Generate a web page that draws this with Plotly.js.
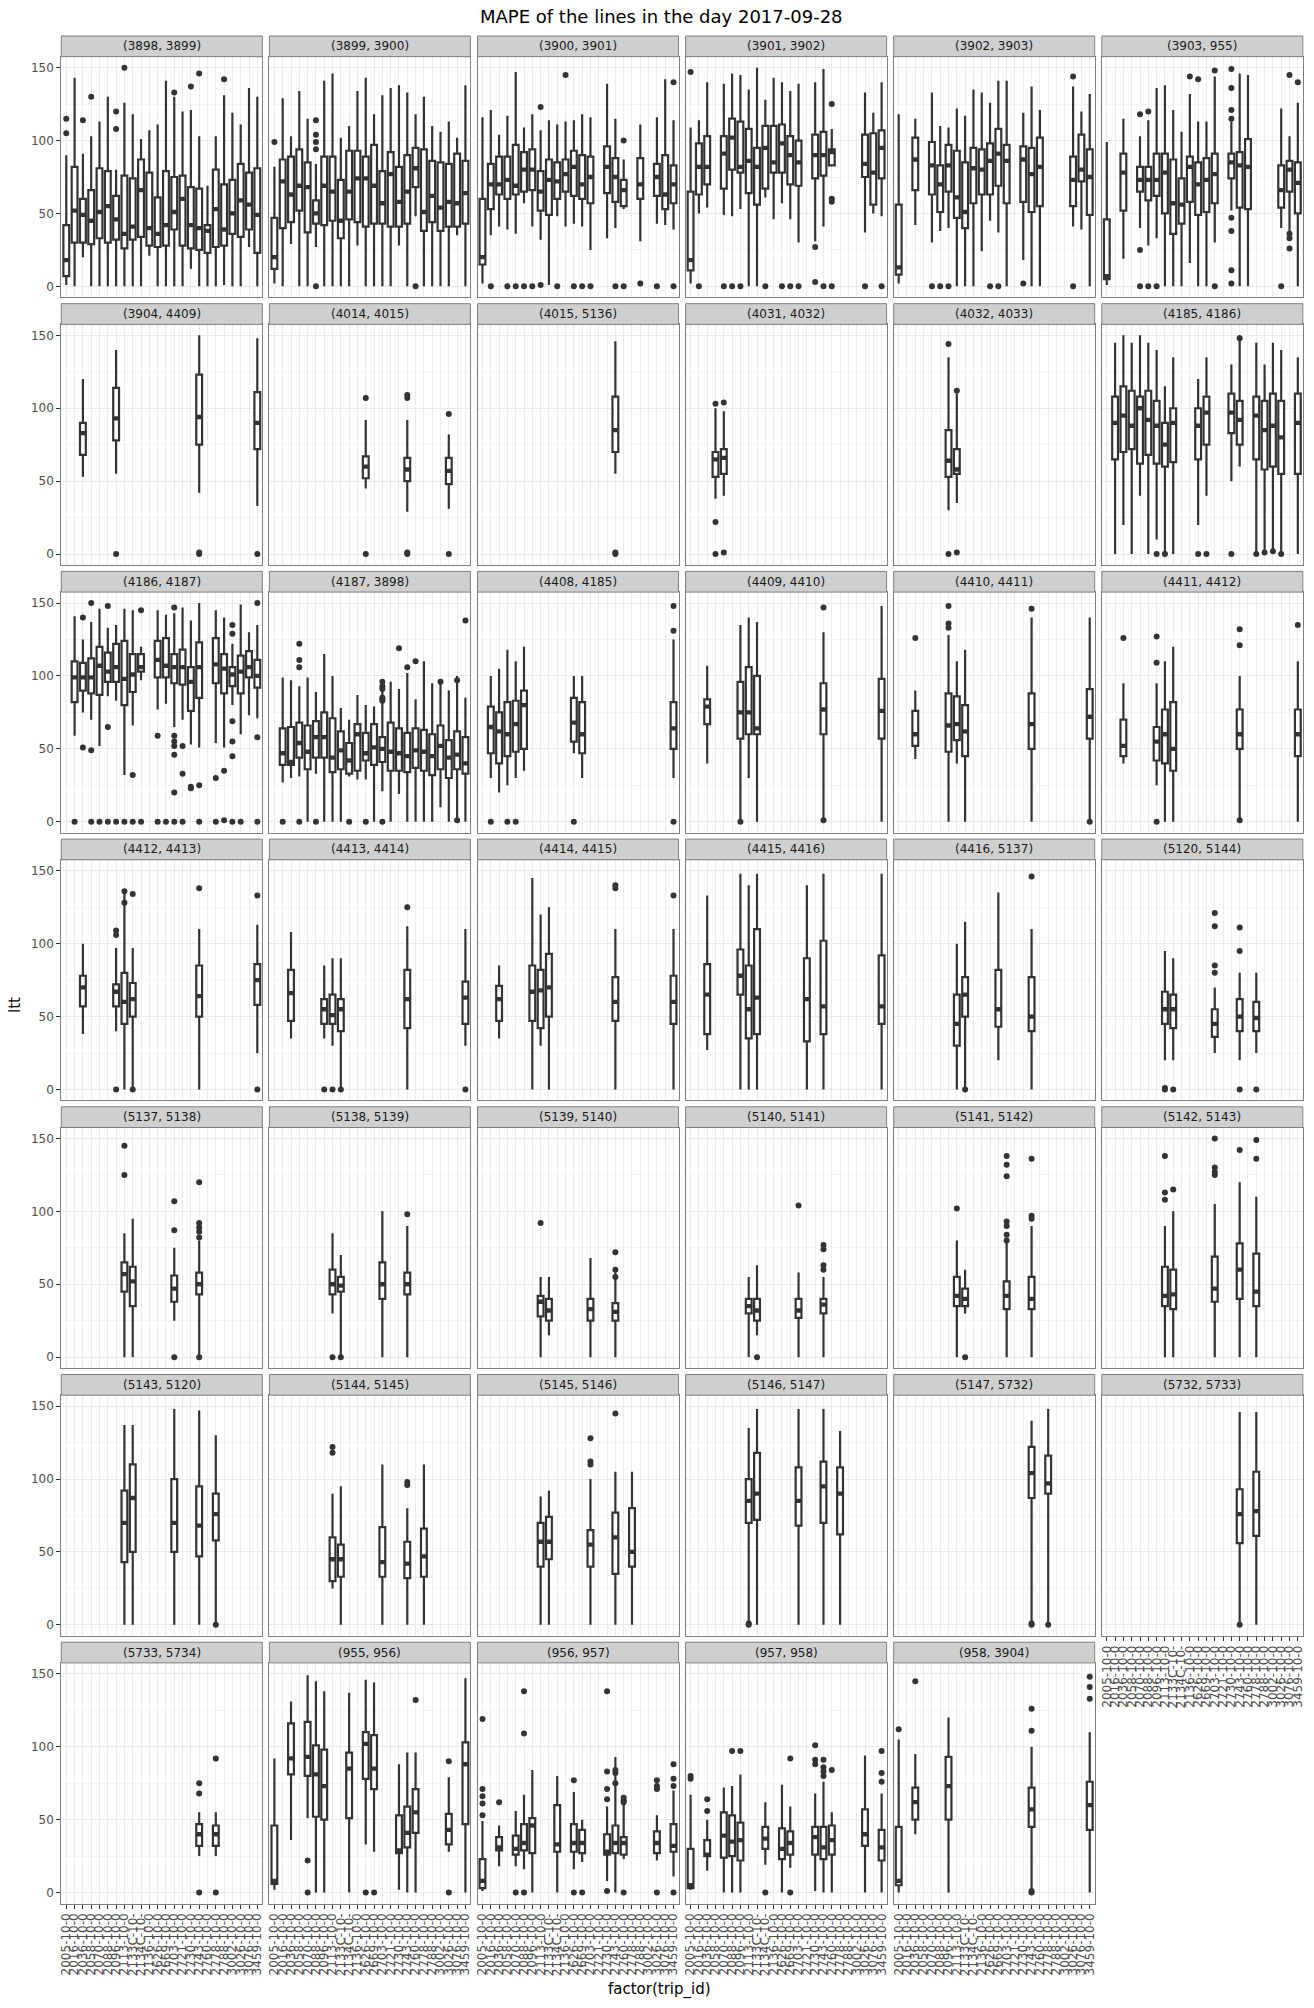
<!DOCTYPE html>
<html><head><meta charset="utf-8">
<script src="https://cdn.plot.ly/plotly-3.0.1.min.js"></script>
<style>html,body{margin:0;padding:0;background:#fff}#chart{width:1314px;height:2008px}</style>
</head><body><div id="chart"></div>
<script>
// ---------- DATA ----------
const tripIds = ["2005-10-0","2016-10-0","2036-10-0","2058-10-0","2070-10-0","2088-10-0","2096-10-0","2113-10-0",
  "2133C-10-","2134C-10-","2136-10-0","2626-10-0","2669-10-0","2703-10-0","2721-10-0","2730-10-0",
  "2743-10-0","2760-10-0","2778-10-0","2788-10-0","3002-10-0","3026-10-0","3076-10-0","3459-10-0"];

const facetNames = ["(3898, 3899)","(3899, 3900)","(3900, 3901)","(3901, 3902)","(3902, 3903)","(3903, 955)",
  "(3904, 4409)","(4014, 4015)","(4015, 5136)","(4031, 4032)","(4032, 4033)","(4185, 4186)",
  "(4186, 4187)","(4187, 3898)","(4408, 4185)","(4409, 4410)","(4410, 4411)","(4411, 4412)",
  "(4412, 4413)","(4413, 4414)","(4414, 4415)","(4415, 4416)","(4416, 5137)","(5120, 5144)",
  "(5137, 5138)","(5138, 5139)","(5139, 5140)","(5140, 5141)","(5141, 5142)","(5142, 5143)",
  "(5143, 5120)","(5144, 5145)","(5145, 5146)","(5146, 5147)","(5147, 5732)","(5732, 5733)",
  "(5733, 5734)","(955, 956)","(956, 957)","(957, 958)","(958, 3904)"];

// box rows: [trip index (1-based), lower whisker, q1, median, q3, upper whisker]; outliers: [trip index, value]
const box_3898_3899 = [[1,1,7,18,42,90],[2,0,30,52,82,143],[3,20,30,49,60,91],[4,0,29,45,66,103],[5,0,33,51,81,113],[6,0,30,55,79,130],[7,0,32,46,62,80],[8,0,26,36,76,126],[9,0,32,41,74,118],[10,0,34,66,87,101],[11,21,28,40,78,107],[12,0,27,36,61,111],[13,0,28,42,79,141],[14,0,39,51,75,130],[15,0,28,60,76,120],[16,12,26,42,68,121],[17,0,25,40,67,103],[18,0,23,38,42,69],[19,0,27,53,80,103],[20,1,28,39,70,131],[21,0,36,50,73,119],[22,0,34,59,84,111],[23,27,39,56,78,136],[24,0,23,49,81,130]];
const out_3898_3899 = [[1,115],[1,105],[3,114],[4,130],[7,120],[7,108],[8,150],[14,133],[16,137],[17,146],[20,142]];

const box_3899_3900 = [[1,2,12,20,47,82],[2,0,40,72,87,129],[3,29,44,63,89,103],[4,0,52,69,94,134],[5,0,37,68,85,115],[6,27,43,50,59,84],[7,0,42,69,89,141],[8,0,45,65,89,146],[9,0,33,45,73,102],[10,0,46,65,93,110],[11,28,44,74,93,134],[12,0,41,74,89,143],[13,0,43,69,97,118],[14,0,43,57,79,131],[15,0,41,77,92,136],[16,28,41,58,82,138],[17,0,43,65,90,133],[18,48,68,81,95,118],[19,0,38,51,94,130],[20,0,44,62,86,110],[21,0,38,54,85,106],[22,0,41,58,84,113],[23,35,41,57,91,102],[24,0,43,64,86,138]];
const out_3899_3900 = [[1,99],[6,114],[6,104],[6,99],[6,94],[6,0],[18,0]];

const box_3900_3901 = [[1,2,15,20,60,116],[2,35,53,70,84,121],[3,41,63,70,89,104],[4,39,60,73,89,117],[5,36,63,69,97,147],[6,57,65,80,92,109],[7,41,66,80,94,118],[8,32,52,65,79,107],[9,1,49,73,87,114],[10,48,60,72,85,111],[11,41,65,77,87,113],[12,43,62,82,93,114],[13,41,60,70,90,118],[14,25,57,75,89,116],[16,33,64,82,96,139],[17,40,58,75,88,115],[18,53,55,66,73,87],[20,31,60,70,88,111],[22,43,62,75,84,116],[23,42,53,63,90,142],[24,39,57,70,83,114]];
const out_3900_3901 = [[2,0],[4,0],[5,0],[6,0],[7,0],[8,123],[8,1],[10,0],[11,145],[12,0],[13,0],[14,0],[17,0],[18,100],[18,0],[20,2],[22,0],[24,140],[24,0]];

const box_3901_3902 = [[1,2,11,18,65,109],[2,50,63,82,98,114],[3,54,70,82,103,140],[5,49,67,91,103,139],[6,48,80,102,115,146],[7,53,78,82,113,145],[8,0,64,86,108,135],[9,0,56,82,95,150],[10,61,67,95,110,128],[11,46,78,85,110,143],[12,57,78,98,111,140],[13,46,70,90,103,134],[14,30,69,85,100,139],[16,31,74,90,104,140],[17,41,76,90,106,149],[18,83,83,92,94,108],[22,37,75,84,104,133],[23,50,56,78,105,119],[24,48,74,95,107,140]];
const out_3901_3902 = [[1,147],[2,0],[5,0],[6,0],[7,0],[10,0],[12,0],[13,0],[14,0],[16,27],[16,3],[17,0],[18,125],[18,60],[18,58],[18,0],[22,0],[24,0]];

const box_3902_3903 = [[1,2,8,13,56,118],[3,42,66,87,102,115],[5,30,63,83,99,133],[6,38,51,70,83,110],[7,40,65,83,97,109],[8,0,47,61,93,122],[9,0,40,51,85,117],[10,0,57,81,95,135],[11,24,63,80,94,133],[12,45,63,86,98,126],[13,37,69,91,108,141],[14,0,57,86,97,141],[16,18,58,87,96,119],[17,0,51,77,95,137],[18,0,55,82,102,121],[22,41,55,73,89,137],[23,39,72,80,104,120],[24,0,49,75,94,132]];
const out_3902_3903 = [[5,0],[6,0],[7,0],[12,0],[13,0],[16,2],[22,144],[22,0]];

const box_3903_955 = [[1,1,5,7,46,99],[3,19,52,78,91,115],[5,40,65,73,82,103],[6,28,59,73,82,114],[7,33,62,73,91,136],[8,0,50,78,91,138],[9,0,36,57,87,121],[10,0,43,56,74,106],[11,16,58,82,89,132],[12,0,49,70,85,113],[13,0,51,73,88,113],[14,30,57,77,91,144],[16,52,74,85,91,113],[17,0,54,83,92,146],[18,0,53,82,101,145],[22,40,54,66,83,122],[23,35,65,80,86,103],[24,0,50,71,85,126]];
const out_3903_955 = [[5,118],[5,25],[5,0],[6,120],[6,0],[7,0],[11,144],[12,142],[14,148],[14,0],[16,149],[16,136],[16,121],[16,115],[16,47],[16,38],[16,11],[16,2],[22,0],[23,145],[23,36],[23,33],[23,26],[24,140]];

const box_3904_4409 = [[3,53,68,83,90,120],[7,55,78,93,114,140],[17,42,75,94,123,150],[24,33,72,90,111,148]];
const out_3904_4409 = [[7,0],[17,0],[17,1],[24,0]];

const box_4014_4015 = [[12,45,52,60,67,92],[17,29,50,58,66,92],[22,31,48,57,66,82]];
const out_4014_4015 = [[12,107],[12,0],[17,109],[17,107],[17,0],[17,1],[22,96],[22,0]];

const box_4015_5136 = [[17,55,70,85,108,146]];
const out_4015_5136 = [[17,0],[17,1]];

const box_4031_4032 = [[4,38,53,65,70,100],[5,40,55,66,72,98]];
const out_4031_4032 = [[4,103],[4,22],[4,0],[5,104],[5,1]];

const box_4032_4033 = [[7,30,53,64,85,135],[8,35,55,58,72,110]];
const out_4032_4033 = [[7,144],[7,0],[8,112],[8,1]];

const box_4185_4186 = [[2,0,65,90,108,145],[3,20,70,95,115,150],[4,0,72,88,112,145],[5,40,62,100,108,150],[6,0,68,92,112,145],[7,10,62,88,105,140],[8,0,60,75,90,115],[9,0,63,90,100,135],[12,20,65,88,100,120],[13,40,75,97,108,135],[16,50,83,97,110,130],[17,60,75,92,105,150],[19,0,65,95,108,145],[20,0,58,85,105,130],[21,0,60,88,110,145],[22,0,55,80,105,140],[24,0,55,90,110,135]];
const out_4185_4186 = [[7,0],[8,0],[12,0],[13,0],[16,0],[17,148],[19,0],[20,1],[21,2],[22,0]];

const box_4186_4187 = [[2,59,82,99,110,141],[3,75,90,99,109,125],[4,70,88,99,112,137],[5,52,87,107,120,146],[6,86,96,103,116,133],[7,83,96,106,122,135],[8,32,80,98,124,146],[9,66,89,101,115,145],[10,97,103,106,115,120],[12,77,99,111,124,145],[13,81,99,107,126,142],[14,65,95,106,115,143],[15,70,94,106,118,147],[16,53,76,96,106,138],[17,51,85,106,123,150],[19,54,95,108,126,145],[20,51,88,105,115,140],[21,80,93,101,106,122],[22,60,88,103,114,149],[23,73,99,106,117,130],[24,71,92,100,111,135]];
const out_4186_4187 = [[2,0],[3,140],[3,51],[4,150],[4,49],[4,0],[5,0],[6,148],[6,65],[6,0],[7,0],[8,0],[9,32],[9,0],[10,145],[10,0],[12,59],[12,0],[13,0],[14,147],[14,59],[14,55],[14,52],[14,46],[14,20],[14,0],[15,52],[15,33],[15,0],[16,24],[16,23],[17,25],[17,0],[19,30],[19,0],[20,35],[20,1],[21,135],[21,129],[21,69],[21,55],[21,45],[21,0],[22,0],[24,150],[24,58],[24,0]];

const box_4187_3898 = [[2,27,39,47,64,99],[3,30,39,41,65,97],[4,31,44,54,68,93],[5,0,36,48,66,99],[6,33,44,58,69,89],[7,0,44,58,75,115],[8,0,34,44,71,100],[9,0,36,49,62,78],[10,31,33,42,54,70],[11,29,35,60,67,87],[12,29,42,47,61,80],[13,0,39,51,67,79],[14,21,41,50,58,92],[15,0,35,48,68,96],[16,19,35,47,64,91],[17,0,34,45,61,102],[18,0,37,49,64,84],[19,0,35,48,63,110],[20,0,32,45,60,95],[21,10,36,52,66,95],[22,0,30,44,56,90],[23,0,36,46,62,100],[24,0,33,40,58,85]];
const out_4187_3898 = [[2,0],[4,122],[4,111],[4,106],[4,0],[6,0],[10,0],[12,0],[14,96],[14,93],[14,91],[14,85],[14,84],[14,83],[14,0],[16,119],[17,106],[18,110],[21,96],[23,97],[23,1],[24,138]];

const box_4408_4185 = [[2,30,47,65,79,100],[3,20,40,62,75,105],[4,25,45,60,82,118],[5,30,48,67,83,110],[6,35,50,80,90,120],[12,47,55,68,85,100],[13,30,47,60,82,100],[24,30,50,64,82,125]];
const out_4408_4185 = [[2,0],[4,0],[5,0],[12,0],[24,148],[24,131],[24,0]];

const box_4409_4410 = [[3,40,67,79,84,107],[7,0,57,75,96,135],[8,30,60,75,106,140],[9,0,60,64,100,137],[17,0,60,77,95,130],[24,0,57,76,98,148]];
const out_4409_4410 = [[7,0],[17,147],[17,1]];

const box_4410_4411 = [[3,43,52,60,76,90],[7,0,48,66,88,128],[8,40,56,67,86,110],[9,0,45,62,80,118],[17,0,50,67,88,140],[24,0,57,72,91,140]];
const out_4410_4411 = [[3,126],[7,148],[7,136],[7,133],[17,146],[24,0]];

const box_4411_4412 = [[3,40,45,52,70,95],[7,25,42,55,65,95],[8,0,40,60,77,110],[9,0,35,50,82,120],[17,0,50,60,77,100],[24,0,45,60,77,110]];
const out_4411_4412 = [[3,126],[7,127],[7,109],[7,0],[17,132],[17,121],[17,1],[24,135]];

const box_4412_4413 = [[3,38,57,70,78,100],[7,40,57,67,72,97],[8,0,45,60,80,135],[9,0,50,62,73,97],[17,0,50,64,85,110],[24,25,58,75,86,113]];
const out_4412_4413 = [[7,109],[7,106],[7,0],[8,136],[8,128],[9,134],[9,0],[17,138],[24,133],[24,0]];

const box_4413_4414 = [[3,35,47,66,82,108],[7,35,45,55,62,85],[8,30,45,51,65,90],[9,0,40,55,62,90],[17,0,42,62,82,112],[24,30,45,63,74,110]];
const out_4413_4414 = [[7,0],[8,0],[9,0],[17,125],[24,0]];

const box_4414_4415 = [[3,35,47,62,71,85],[7,0,47,67,85,145],[8,30,42,68,82,120],[9,0,50,70,93,125],[17,0,47,60,77,110],[24,0,45,60,78,110]];
const out_4414_4415 = [[17,140],[17,138],[24,133]];

const box_4415_4416 = [[3,27,38,65,86,133],[7,0,65,78,96,148],[8,0,35,55,85,140],[9,0,38,63,110,148],[15,0,33,62,90,140],[17,0,38,57,102,148],[24,0,45,57,92,148]];
const out_4415_4416 = [];

const box_4416_5137 = [[8,0,30,45,65,100],[9,0,50,65,77,115],[13,20,43,55,82,135],[17,0,40,50,77,110]];
const out_4416_5137 = [[9,0],[17,146]];

const box_5120_5144 = [[8,20,45,55,67,95],[9,20,42,55,65,90],[14,25,36,45,55,70],[17,20,40,50,62,80],[19,25,40,49,60,80]];
const out_5120_5144 = [[8,0],[8,1],[9,0],[14,121],[14,112],[14,85],[14,80],[17,111],[17,95],[17,0],[19,0]];

const box_5137_5138 = [[8,0,45,57,65,85],[9,0,35,52,62,95],[14,25,38,47,56,75],[17,0,43,50,58,80]];
const out_5137_5138 = [[8,145],[8,125],[14,107],[14,87],[14,0],[17,120],[17,92],[17,89],[17,86],[17,82],[17,0]];

const box_5138_5139 = [[8,30,43,50,60,85],[9,0,45,49,55,70],[14,0,40,50,65,100],[17,0,43,50,58,90]];
const out_5138_5139 = [[8,0],[9,0],[17,98]];

const box_5139_5140 = [[8,0,28,38,42,55],[9,15,25,32,40,55],[14,0,25,33,40,68],[17,0,25,31,37,60]];
const out_5139_5140 = [[8,92],[17,72],[17,60],[17,55]];

const box_5140_5141 = [[8,0,30,35,40,55],[9,15,25,32,40,63],[14,0,27,32,40,58],[17,0,30,36,40,55]];
const out_5140_5141 = [[9,0],[14,104],[17,77],[17,74],[17,63],[17,60]];

const box_5141_5142 = [[8,0,35,42,55,80],[9,30,35,40,47,60],[14,0,33,42,52,80],[17,0,33,40,55,90]];
const out_5141_5142 = [[8,102],[9,0],[14,138],[14,132],[14,124],[14,93],[14,90],[14,84],[14,80],[17,136],[17,97],[17,95]];

const box_5142_5143 = [[8,0,35,42,62,90],[9,0,33,43,60,100],[14,0,38,47,69,105],[17,0,40,60,78,120],[19,0,35,45,71,110]];
const out_5142_5143 = [[8,138],[8,113],[8,108],[9,115],[14,150],[14,130],[14,127],[14,125],[17,142],[19,149],[19,136]];

const box_5143_5120 = [[8,0,43,70,92,137],[9,0,50,87,110,137],[14,0,50,70,100,148],[17,0,47,68,95,147],[19,0,58,76,90,130]];
const out_5143_5120 = [[19,0]];

const box_5144_5145 = [[8,25,30,45,60,90],[9,0,33,45,55,95],[14,0,33,43,67,110],[17,0,32,42,57,80],[19,0,33,47,66,110]];
const out_5144_5145 = [[8,122],[8,118],[17,98],[17,96]];

const box_5145_5146 = [[8,0,40,57,70,88],[9,0,45,57,74,92],[14,0,40,55,65,100],[17,0,35,60,77,105],[19,0,40,50,80,105]];
const out_5145_5146 = [[14,128],[14,112],[14,110],[17,145]];

const box_5146_5147 = [[8,0,70,85,100,135],[9,0,72,90,118,148],[14,0,68,85,108,148],[17,0,70,95,112,148],[19,0,62,90,108,133]];
const out_5146_5147 = [[8,0],[8,1]];

const box_5147_5732 = [[17,0,87,104,122,140],[19,0,90,97,116,148]];
const out_5147_5732 = [[17,0],[17,1],[19,0]];

const box_5732_5733 = [[17,0,56,76,93,146],[19,0,61,78,105,146]];
const out_5732_5733 = [[17,0]];

const box_5733_5734 = [[17,25,32,40,47,55],[19,25,32,40,46,55]];
const out_5733_5734 = [[17,75],[17,68],[17,0],[19,92],[19,0]];

const box_955_956 = [[1,2,6,8,46,92],[3,36,81,92,116,131],[5,51,80,93,117,149],[6,0,52,81,101,145],[7,0,50,73,98,138],[10,0,51,85,96,137],[12,33,78,102,110,146],[13,28,71,85,108,144],[16,2,27,29,53,88],[17,0,31,41,59,96],[18,0,41,55,71,96],[22,28,33,43,54,79],[24,0,47,88,103,147]];
const out_955_956 = [[5,22],[5,0],[12,0],[13,0],[18,132],[22,90],[22,0]];

const box_956_957 = [[1,1,3,8,23,49],[3,18,29,31,38,46],[5,18,26,30,39,56],[6,16,29,34,47,67],[7,0,27,46,51,84],[10,0,28,33,60,80],[12,16,28,34,47,69],[13,21,27,34,43,50],[16,8,26,28,40,59],[17,0,27,34,46,93],[18,23,26,34,38,66],[22,22,27,34,42,53],[24,11,28,32,47,70]];
const out_956_957 = [[1,119],[1,71],[1,66],[1,61],[1,53],[3,62],[5,0],[6,138],[6,109],[6,0],[12,77],[12,0],[13,0],[16,138],[16,83],[16,71],[16,64],[16,1],[17,84],[17,82],[17,75],[18,65],[18,63],[18,62],[18,0],[22,77],[22,73],[22,71],[22,0],[24,88],[24,78],[24,73],[24,0]];

const box_957_958 = [[1,2,3,5,30,67],[3,15,25,26,36,50],[5,0,24,39,55,72],[6,0,25,35,53,73],[7,0,22,36,48,81],[10,19,30,37,45,62],[12,0,23,30,44,74],[13,17,26,34,42,59],[16,1,26,38,45,68],[17,0,23,31,45,76],[18,0,26,36,46,55],[22,0,32,40,57,94],[24,0,22,31,43,68]];
const out_957_958 = [[1,80],[1,78],[3,64],[3,56],[6,97],[7,97],[10,0],[13,92],[13,0],[16,101],[16,91],[16,88],[17,91],[17,86],[17,83],[17,80],[18,84],[24,97],[24,82],[24,76]];

const box_958_3904 = [[1,0,5,8,45,105],[3,40,50,62,72,95],[7,0,50,73,93,120],[17,0,45,57,72,100],[24,0,43,60,76,110]];
const out_958_3904 = [[1,112],[3,145],[17,126],[17,111],[17,0],[17,1],[24,148],[24,141],[24,133]];

const facetBoxes = [box_3898_3899,box_3899_3900,box_3900_3901,box_3901_3902,box_3902_3903,box_3903_955,
  box_3904_4409,box_4014_4015,box_4015_5136,box_4031_4032,box_4032_4033,box_4185_4186,
  box_4186_4187,box_4187_3898,box_4408_4185,box_4409_4410,box_4410_4411,box_4411_4412,
  box_4412_4413,box_4413_4414,box_4414_4415,box_4415_4416,box_4416_5137,box_5120_5144,
  box_5137_5138,box_5138_5139,box_5139_5140,box_5140_5141,box_5141_5142,box_5142_5143,
  box_5143_5120,box_5144_5145,box_5145_5146,box_5146_5147,box_5147_5732,box_5732_5733,
  box_5733_5734,box_955_956,box_956_957,box_957_958,box_958_3904];
const facetOutliers = [out_3898_3899,out_3899_3900,out_3900_3901,out_3901_3902,out_3902_3903,out_3903_955,
  out_3904_4409,out_4014_4015,out_4015_5136,out_4031_4032,out_4032_4033,out_4185_4186,
  out_4186_4187,out_4187_3898,out_4408_4185,out_4409_4410,out_4410_4411,out_4411_4412,
  out_4412_4413,out_4413_4414,out_4414_4415,out_4415_4416,out_4416_5137,out_5120_5144,
  out_5137_5138,out_5138_5139,out_5139_5140,out_5140_5141,out_5141_5142,out_5142_5143,
  out_5143_5120,out_5144_5145,out_5145_5146,out_5146_5147,out_5147_5732,out_5732_5733,
  out_5733_5734,out_955_956,out_956_957,out_957_958,out_958_3904];
const yTicks = [0, 50, 100, 150];
const yMinor = [25, 75, 125];

// ---------- LAYOUT GEOMETRY ----------
const W = 1314, H = 2008;
const NCOL = 6;
const colLeft0 = 61.3, colStep = 208.1, panelW = 201;
const rowTop0 = 36, rowStep = 267.7, stripH = 20.7, panelH = 240.6;
const BOXW = 0.7;
const INK = '#333333';
const FONT = 'DejaVu Sans, Verdana, sans-serif';

const traces = [];
const layout = {
  width: W, height: H,
  margin: {l: 0, r: 0, t: 0, b: 0},
  paper_bgcolor: '#ffffff', plot_bgcolor: '#ffffff',
  showlegend: false,
  font: {family: FONT, color: '#1a1a1a'},
  shapes: [], annotations: []
};
const idx = tripIds.map((_, i) => i);

facetNames.forEach((name, i) => {
  const r = Math.floor(i / NCOL), c = i % NCOL;
  const sfx = i === 0 ? '' : String(i + 1);
  const xl = colLeft0 + c * colStep, xr = xl + panelW;
  const st = rowTop0 + r * rowStep, pt = st + stripH, pb = pt + panelH;
  const isBottom = i + NCOL >= facetNames.length;
  const isLeft = c === 0;
  const boxes = facetBoxes[i], outs = facetOutliers[i];

  layout['xaxis' + sfx] = {
    domain: [xl / W, xr / W], anchor: 'y' + sfx,
    range: [-0.6, tripIds.length - 0.4],
    tickmode: 'array', tickvals: idx, ticktext: tripIds,
    showticklabels: isBottom, ticks: isBottom ? 'outside' : '', ticklen: 4, tickwidth: 1, tickcolor: INK,
    tickangle: -90, tickfont: {family: FONT, size: 12, color: '#4d4d4d'},
    showgrid: true, gridcolor: '#ebebeb', gridwidth: 1,
    zeroline: false, showline: true, mirror: true, linecolor: '#7f7f7f', linewidth: 1,
    fixedrange: true
  };
  layout['yaxis' + sfx] = {
    domain: [1 - pb / H, 1 - pt / H], anchor: 'x' + sfx,
    range: [-7.5, 157.5],
    tickmode: 'array', tickvals: yTicks, ticktext: yTicks.map(String),
    showticklabels: isLeft, ticks: isLeft ? 'outside' : '', ticklen: 4, tickwidth: 1, tickcolor: INK,
    tickfont: {family: FONT, size: 12, color: '#4d4d4d'},
    showgrid: true, gridcolor: '#ebebeb', gridwidth: 1,
    minor: {tickmode: 'array', tickvals: yMinor, showgrid: true, gridcolor: '#f5f5f5', gridwidth: 1, ticks: ''},
    zeroline: false, showline: true, mirror: true, linecolor: '#7f7f7f', linewidth: 1,
    fixedrange: true
  };

  traces.push({
    type: 'box', xaxis: 'x' + sfx, yaxis: 'y' + sfx,
    x: boxes.map(b => b[0] - 1),
    lowerfence: boxes.map(b => b[1]), q1: boxes.map(b => b[2]), median: boxes.map(b => b[3]),
    q3: boxes.map(b => b[4]), upperfence: boxes.map(b => b[5]),
    width: BOXW, whiskerwidth: 0, boxpoints: false,
    fillcolor: '#ffffff', line: {color: INK, width: 2.2},
    hoverinfo: 'skip', showlegend: false
  });
  const mx = [], my = [];
  boxes.forEach(b => { mx.push(b[0] - 1 - BOXW / 2, b[0] - 1 + BOXW / 2, null); my.push(b[3], b[3], null); });
  traces.push({
    type: 'scatter', mode: 'lines', xaxis: 'x' + sfx, yaxis: 'y' + sfx,
    x: mx, y: my, line: {color: INK, width: 4.3}, hoverinfo: 'skip', showlegend: false
  });
  if (outs.length) traces.push({
    type: 'scatter', mode: 'markers', xaxis: 'x' + sfx, yaxis: 'y' + sfx,
    x: outs.map(o => o[0] - 1), y: outs.map(o => o[1]),
    marker: {color: INK, size: 6, line: {width: 0}}, hoverinfo: 'skip', showlegend: false,
    cliponaxis: false
  });

  layout.shapes.push({
    type: 'rect', xref: 'paper', yref: 'paper',
    x0: xl / W, x1: xr / W, y0: 1 - pt / H, y1: 1 - st / H,
    fillcolor: '#cfcfcf', line: {color: '#7f7f7f', width: 1}
  });
  layout.annotations.push({
    text: name, xref: 'paper', yref: 'paper', x: (xl + xr) / 2 / W, y: 1 - (st + stripH / 2) / H,
    xanchor: 'center', yanchor: 'middle', showarrow: false,
    font: {family: FONT, size: 12, color: '#1a1a1a'}
  });
});

layout.annotations.push({
  text: 'MAPE of the lines in the day 2017-09-28', xref: 'paper', yref: 'paper',
  x: 661 / W, y: 1 - 17 / H, xanchor: 'center', yanchor: 'middle', showarrow: false,
  font: {family: FONT, size: 18, color: '#000000'}
});
layout.annotations.push({
  text: 'factor(trip_id)', xref: 'paper', yref: 'paper',
  x: 659 / W, y: 1 - 1989 / H, xanchor: 'center', yanchor: 'middle', showarrow: false,
  font: {family: FONT, size: 15, color: '#000000'}
});
layout.annotations.push({
  text: 'ltt', xref: 'paper', yref: 'paper', textangle: -90,
  x: 15 / W, y: 1 - 1005 / H, xanchor: 'center', yanchor: 'middle', showarrow: false,
  font: {family: FONT, size: 15, color: '#000000'}
});

Plotly.newPlot('chart', traces, layout, {staticPlot: true, displayModeBar: false});
</script>
</body></html>
